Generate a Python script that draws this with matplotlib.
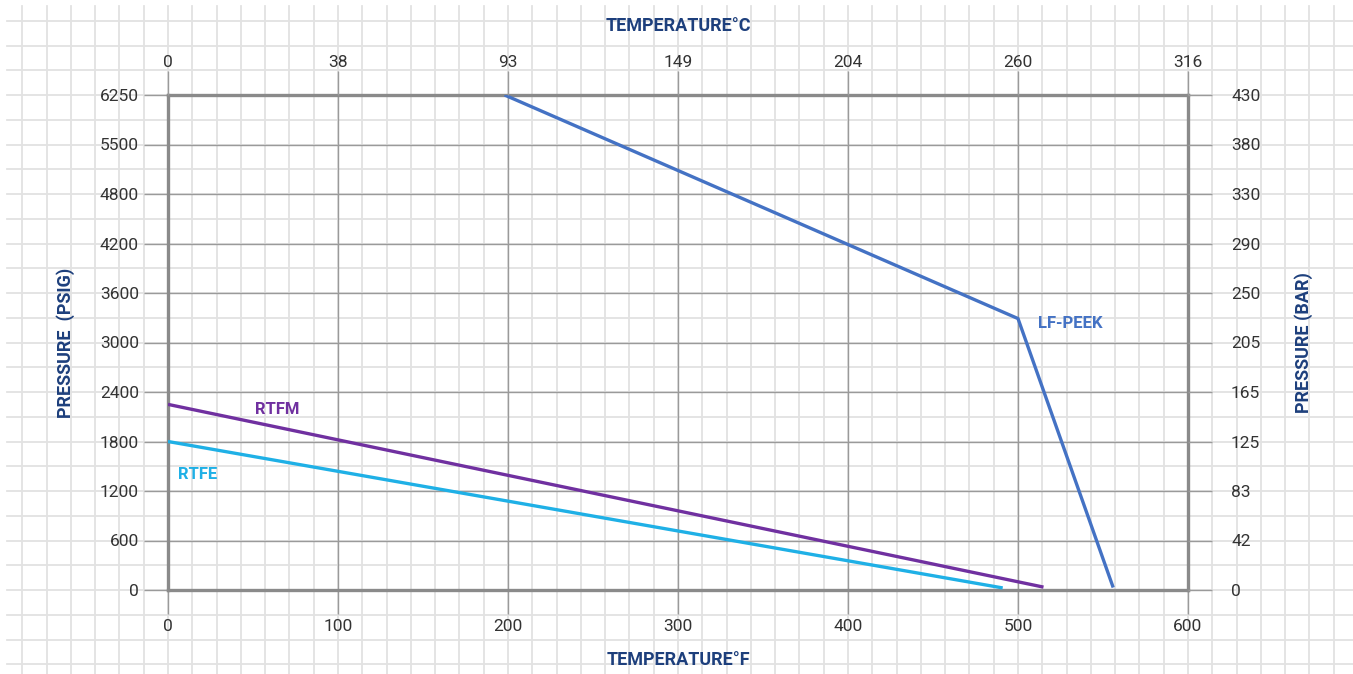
import numpy as np
import matplotlib
matplotlib.use("Agg")
import matplotlib.pyplot as plt
from matplotlib.lines import Line2D

# tick labels (evenly spaced on the chart, not proportional)
psig_ticks = [0, 600, 1200, 1800, 2400, 3000, 3600, 4200, 4800, 5500, 6250]
bar_labels = ["0", "42", "83", "125", "165", "205", "250", "290", "330", "380", "430"]
temp_f = [0, 100, 200, 300, 400, 500, 600]
temp_c = ["0", "38", "93", "149", "204", "260", "316"]

# series (temperature °F, pressure psig)
peek_f = [198, 500, 556]
peek_p = [6250, 3290, 30]
rtfm_f = [0, 515]
rtfm_p = [2250, 35]
rtfe_f = [0, 491]
rtfe_p = [1800, 25]

C_PEEK = "#4472c4"
C_RTFM = "#7030a0"
C_RTFE = "#1fb0e6"
NAVY = "#1d3f7c"
TXT = "#333333"
GRID = "#9a9a9a"
SPINE = "#8a8a8a"
PAPER = "#e2e2e2"

pos = np.arange(len(psig_ticks), dtype=float)
def fwd(v):
    return np.interp(v, psig_ticks, pos)
def inv(v):
    return np.interp(v, pos, psig_ticks)

W, H = 1353, 674
fig = plt.figure(figsize=(W / 100, H / 100), dpi=100)
fig.patch.set_facecolor("white")

# graph paper background
bg = fig.add_axes([0, 0, 1, 1], zorder=-5)
bg.set_xlim(0, W)
bg.set_ylim(H, 0)
bg.axis("off")
dx, dy = 170 / 7, 49.5 / 2
for x in np.arange(168 - dx * 7, W, dx):
    if x >= 7:
        bg.add_line(Line2D([x, x], [6, H], color=PAPER, lw=1.3))
for y in np.arange(95 - dy * 4, H, dy):
    if y >= 5:
        bg.add_line(Line2D([7, W], [y, y], color=PAPER, lw=1.3))

L, R, T, B = 168 / W, 1188 / W, 1 - 95 / H, 1 - 590 / H
ax = fig.add_axes([L, B, R - L, T - B])
ax.set_facecolor("none")
ax.set_yscale("function", functions=(fwd, inv))
ax.set_xlim(0, 600)
ax.set_ylim(0, 6250)

ax.plot(peek_f, peek_p, color=C_PEEK, lw=2.4, solid_capstyle="butt", zorder=5)
ax.plot(rtfm_f, rtfm_p, color=C_RTFM, lw=2.4, solid_capstyle="butt", zorder=5)
ax.plot(rtfe_f, rtfe_p, color=C_RTFE, lw=2.4, solid_capstyle="butt", zorder=5)

lab = dict(fontsize=12, fontweight="bold", family="Roboto", va="center")
ax.text(512, 3236, "LF-PEEK", color=C_PEEK, **lab)
ax.text(51, 2182, "RTFM", color=C_RTFM, **lab)
ax.text(6, 1406, "RTFE", color=C_RTFE, **lab)

ax.set_xticks(temp_f)
ax.set_yticks(psig_ticks)
ax.set_yticklabels([str(v) for v in psig_ticks])
ax.grid(True, color=GRID, lw=1.0)
ax.set_axisbelow(True)
for s in ax.spines.values():
    s.set_color(SPINE)
    s.set_linewidth(2.4)
ax.tick_params(length=17, width=1.0, color=GRID, labelsize=12.5, labelcolor=TXT, pad=4)
for t in ax.get_xticklabels() + ax.get_yticklabels():
    t.set_family("Roboto")

# right axis (bar)
ax2 = ax.twinx()
ax2.set_yscale("function", functions=(fwd, inv))
ax2.set_ylim(ax.get_ylim())
ax2.set_yticks(psig_ticks)
ax2.set_yticklabels(bar_labels)
ax2.tick_params(length=17, width=1.0, color=GRID, labelsize=12.5, labelcolor=TXT, pad=14)
for s in ax2.spines.values():
    s.set_visible(False)

# top axis (°C)
ax3 = ax.twiny()
ax3.set_xlim(ax.get_xlim())
ax3.set_xticks(temp_f)
ax3.set_xticklabels(temp_c)
ax3.tick_params(length=17, width=1.0, color=GRID, labelsize=12.5, labelcolor=TXT, pad=1)
for s in ax3.spines.values():
    s.set_visible(False)
for t in ax2.get_yticklabels() + ax3.get_xticklabels():
    t.set_family("Roboto")

tl = dict(fontsize=13, fontweight="bold", family="Roboto", color=NAVY)
ax.set_xlabel("TEMPERATURE°F", labelpad=12, **tl)
ax3.set_xlabel("TEMPERATURE°C", labelpad=17, **tl)
ax.set_ylabel("PRESSURE  (PSIG)", labelpad=18, **tl)
ax2.set_ylabel("PRESSURE (BAR)", labelpad=24, **tl)

fig.savefig("out.png", dpi=100)
